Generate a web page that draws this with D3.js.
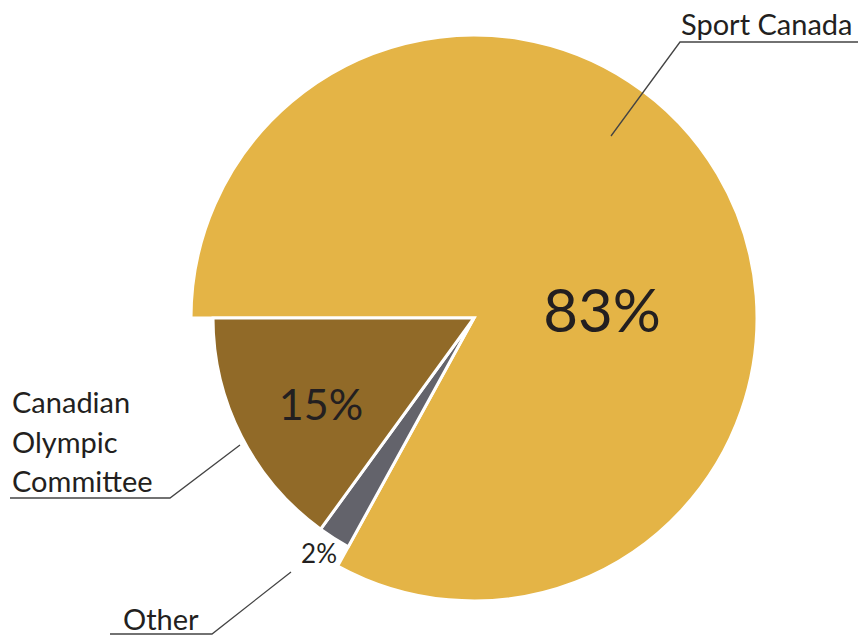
<!DOCTYPE html>
<html>
<head>
<meta charset="utf-8">
<script src="https://cdnjs.cloudflare.com/ajax/libs/d3/7.8.5/d3.min.js"></script>
<style>
html,body{margin:0;padding:0;background:#fff;}
svg{display:block;}
text{font-family:Lato,"Open Sans",sans-serif;fill:#231f20;}
</style>
</head>
<body>
<svg id="chart" width="865" height="635"></svg>
<script>
const categories = ["Sport Canada", "Other", "Canadian Olympic Committee"];
const values = [83, 2, 15];
const valueLabels = ["83%", "2%", "15%"];
const colors = ["#e4b446", "#63636b", "#916a28"];

const svg = d3.select("#chart");
const cx = 474, cy = 318;
const rBig = 283, rSmall = 261;

const pie = d3.pie().sort(null).value(d => d)
  .startAngle(-Math.PI / 2).endAngle(1.5 * Math.PI);
const arcs = pie(values);

const g = svg.append("g").attr("transform", `translate(${cx},${cy})`);

g.selectAll("path").data(arcs).join("path")
  .attr("d", (d, i) => d3.arc().innerRadius(0).outerRadius(i === 0 ? rBig : rSmall)(d))
  .attr("fill", (d, i) => colors[i])
  .attr("stroke", "#fff")
  .attr("stroke-width", 3)
  .attr("stroke-linejoin", "miter");

// value labels
const valuePos = [[128, 14], [-155, 245], [-153, 102]];
const valueSize = [60, 26, 43];
g.selectAll("text.val").data(arcs).join("text")
  .attr("class", "val")
  .attr("x", (d, i) => valuePos[i][0])
  .attr("y", (d, i) => valuePos[i][1])
  .attr("text-anchor", "middle")
  .attr("font-size", (d, i) => valueSize[i])
  .text((d, i) => valueLabels[i]);

// category labels with leader lines
const line = d3.line();
const labelSize = 29;
// Sport Canada
svg.append("path").attr("d", line([[611, 136], [680, 42], [858, 42]]))
  .attr("fill", "none").attr("stroke", "#444").attr("stroke-width", 1.3);
svg.append("text").attr("x", 681).attr("y", 35).attr("font-size", labelSize).text(categories[0]);

// Canadian Olympic Committee
svg.append("path").attr("d", line([[240, 445], [170, 498], [10, 498]]))
  .attr("fill", "none").attr("stroke", "#444").attr("stroke-width", 1.3);
const col = svg.append("text").attr("x", 12).attr("y", 413).attr("font-size", labelSize);
["Canadian", "Olympic", "Committee"].forEach((w, i) => {
  col.append("tspan").attr("x", 12).attr("dy", i === 0 ? 0 : 39.5).text(w);
});

// Other
svg.append("path").attr("d", line([[291, 572], [212, 634], [110, 634]]))
  .attr("fill", "none").attr("stroke", "#444").attr("stroke-width", 1.3);
svg.append("text").attr("x", 123).attr("y", 630).attr("font-size", labelSize).text(categories[1]);
</script>
</body>
</html>
